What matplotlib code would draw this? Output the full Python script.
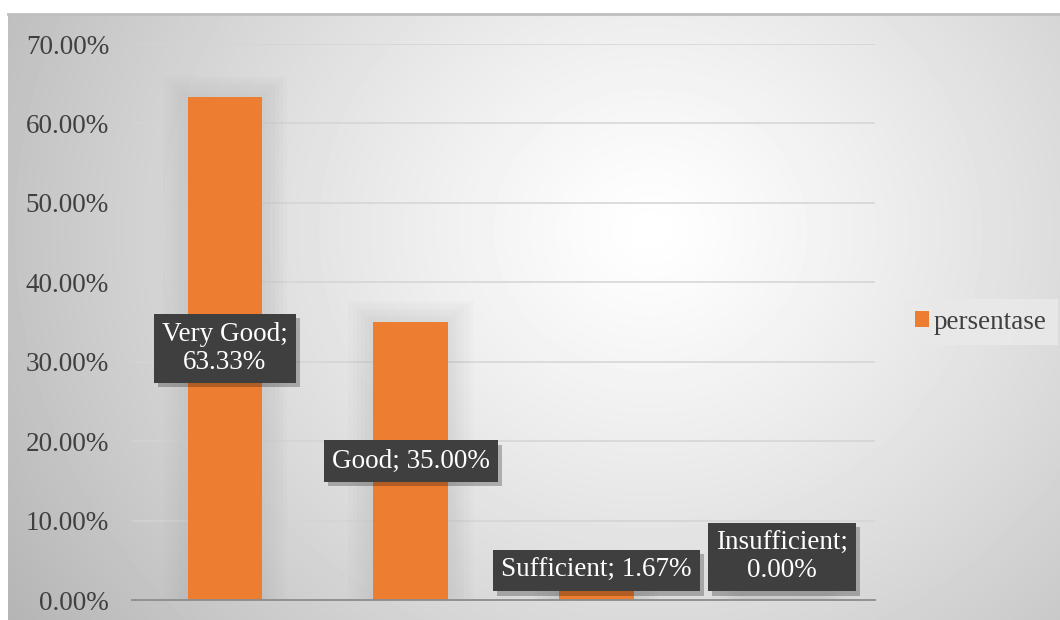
import numpy as np
import matplotlib
matplotlib.use('Agg')
import matplotlib.pyplot as plt
from matplotlib import patheffects as pe
from matplotlib.patches import Patch
from matplotlib.lines import Line2D
from matplotlib.ticker import FuncFormatter

# ---------------- data ----------------
categories = ['Very Good', 'Good', 'Sufficient', 'Insufficient']
values = [63.33, 35.00, 1.67, 0.00]
label_texts = ['Very Good;\n63.33%', 'Good; 35.00%', 'Sufficient; 1.67%', 'Insufficient;\n0.00%']
series_name = 'persentase'
y_ticks = [0, 10, 20, 30, 40, 50, 60, 70]

# ---------------- style ----------------
plt.rcParams['font.family'] = ['Liberation Serif', 'DejaVu Serif']
ORANGE = '#ED7D31'
TXT = '#404040'
FS = 19.5
W, H = 1060, 620

fig = plt.figure(figsize=(W / 100, H / 100), dpi=100)
fig.patch.set_facecolor('white')

# background with radial gradient (chart area)
L, T = 8, 14
bg = fig.add_axes([L / W, 0, (W - L) / W, (H - T) / H])
nx, ny = W - L, H - T
xx, yy = np.meshgrid(np.arange(nx), np.arange(ny))
cx, cy = 650 - L, 230 - T
r = np.hypot((xx - cx) / 1.0, (yy - cy) / 0.9) / 680
val = 1.0 - 0.25 * np.clip(r, 0, 1.2) ** 1.2
bg.imshow(val, cmap='gray', vmin=0, vmax=1, aspect='auto', interpolation='bilinear')
bg.set_axis_off()
fig.add_artist(Line2D([L / W, 1], [1 - T / H, 1 - T / H], transform=fig.transFigure,
                      color='#bfbfbf', lw=2))

# main axes
ax = fig.add_axes([132 / W, 20 / H, 743 / W, 556 / H])
ax.patch.set_alpha(0)
x = np.arange(len(categories))
bw = 0.4

# soft glow around bars
for k in range(1, 7):
    ax.bar(x, np.array(values) + 0.45 * k, width=bw + 0.045 * k, color='#9a9a9a',
           alpha=0.035, zorder=1, linewidth=0)
ax.bar(x, values, width=bw, color=ORANGE, zorder=2, linewidth=0)

ax.set_xlim(-0.5, len(categories) - 0.5)
ax.set_ylim(0, 70)
ax.set_yticks(y_ticks)
ax.yaxis.set_major_formatter(FuncFormatter(lambda v, p: f'{v:.2f}%'))
ax.set_xticks([])
ax.yaxis.grid(True, color='#d4d4d4', lw=1.1)
ax.set_axisbelow(True)
for s in ['top', 'right', 'left']:
    ax.spines[s].set_visible(False)
ax.spines['bottom'].set_color('#8c8c8c')
ax.spines['bottom'].set_linewidth(1.3)
ax.spines['bottom'].set_zorder(3)
ax.tick_params(axis='y', length=0, labelsize=FS, labelcolor=TXT, pad=16.5)

# data labels
for i, (v, t) in enumerate(zip(values, label_texts)):
    bbox = dict(boxstyle='square,pad=0.3', fc='#3f3f3f', ec='none', lw=0)
    if v / 2 > 5:
        ann = ax.annotate(t, xy=(i, v / 2), ha='center', va='center', fontsize=FS,
                          color='white', linespacing=1.12, bbox=bbox, zorder=5)
    else:
        ann = ax.annotate(t, xy=(i, 0), xytext=(0, 12), textcoords='offset points',
                          ha='center', va='bottom', fontsize=FS, color='white',
                          linespacing=1.12, bbox=bbox, zorder=5)
    ann.get_bbox_patch().set_path_effects([
        pe.SimplePatchShadow(offset=(3, -3), shadow_rgbFace='black', alpha=0.25),
        pe.Normal()])

# legend
leg = fig.legend(handles=[Patch(facecolor=ORANGE, edgecolor='none')], labels=[series_name],
                 loc='center', bbox_to_anchor=(981 / W, 1 - 322 / H), fontsize=FS,
                 frameon=True, fancybox=False, handlelength=0.5, handleheight=0.5,
                 handletextpad=0.2, borderpad=0.4, labelcolor=TXT)
leg.get_frame().set_facecolor('#e9e9e9')
leg.get_frame().set_edgecolor('none')
leg.get_frame().set_alpha(0.9)

fig.savefig('out.png', dpi=100)
